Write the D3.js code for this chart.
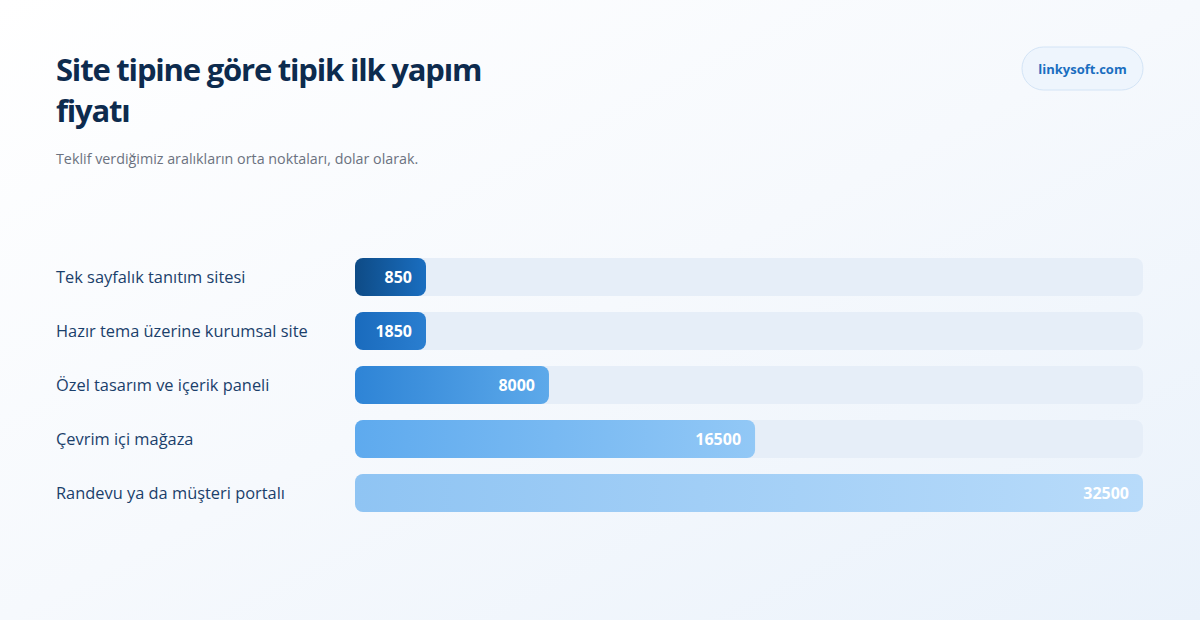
<!DOCTYPE html>
<html><head><meta charset="utf-8">
<script src="https://cdn.jsdelivr.net/npm/d3@7/dist/d3.min.js"></script>
<style>
html,body{margin:0;padding:0;width:1200px;height:620px;overflow:hidden;}
body{font-family:"Open Sans",sans-serif;}
</style></head>
<body>
<svg id="chart" width="1200" height="620"></svg>
<script>
const categories = ["Tek sayfalık tanıtım sitesi","Hazır tema üzerine kurumsal site","Özel tasarım ve içerik paneli","Çevrim içi mağaza","Randevu ya da müşteri portalı"];
const values = [850, 1850, 8000, 16500, 32500];
const titleLines = ["Site tipine göre tipik ilk yapım","fiyatı"];
const subtitle = "Teklif verdiğimiz aralıkların orta noktaları, dolar olarak.";
const brand = "linkysoft.com";
const barColors = [["#0e4b86","#1a6ec0"],["#1a6bbd","#2a7ed0"],["#2e84d6","#5da9ea"],["#5eaaee","#92c8f6"],["#8fc4f3","#b8dbfa"]];

const svg = d3.select("#chart");
const defs = svg.append("defs");
const bg = defs.append("linearGradient").attr("id","bg").attr("x1","0").attr("y1","0").attr("x2","1").attr("y2","1");
bg.append("stop").attr("offset","0").attr("stop-color","#ffffff");
bg.append("stop").attr("offset","0.5").attr("stop-color","#f6f9fd");
bg.append("stop").attr("offset","1").attr("stop-color","#eaf2fb");
svg.append("rect").attr("width",1200).attr("height",620).attr("fill","url(#bg)");

const title = svg.append("text").attr("x",56).attr("y",81).attr("fill","#0d2b4e")
  .attr("font-size",31).attr("font-weight",700).attr("letter-spacing","-1.2");
titleLines.forEach((t,i)=>title.append("tspan").attr("x",56).attr("y",81+i*41).text(t));
svg.append("text").attr("x",56).attr("y",164).attr("fill","#6b7280").attr("font-size",14.3).text(subtitle);

// brand pill
svg.append("rect").attr("x",1022).attr("y",47).attr("width",121).attr("height",43).attr("rx",21.5)
  .attr("fill","#eef5fd").attr("stroke","#d3e4f6");
svg.append("text").attr("x",1082.5).attr("y",74).attr("text-anchor","middle").attr("fill","#1a6ec0")
  .attr("font-size",13).attr("font-weight",700).text(brand);

const x0 = 355, x1 = 1143;
const x = d3.scaleLinear().domain([0, d3.max(values)]).range([0, x1-x0]);
const yb = d3.scaleBand().domain(categories).range([258, 258+54*5-16]).paddingInner(16/54).paddingOuter(0);

barColors.forEach((c,i)=>{
  const g = defs.append("linearGradient").attr("id","g"+i);
  g.append("stop").attr("offset","0").attr("stop-color",c[0]);
  g.append("stop").attr("offset","1").attr("stop-color",c[1]);
});

const rows = svg.append("g").selectAll("g").data(categories).join("g")
  .attr("transform",d=>`translate(0,${yb(d)})`);
const bw = yb.bandwidth();
rows.append("text").attr("x",56).attr("y",bw/2).attr("dy","0.35em").attr("fill","#1b3f6b")
  .attr("font-size",16.4).attr("font-weight",500).text(d=>d);
rows.append("rect").attr("x",x0).attr("y",0).attr("width",x1-x0).attr("height",bw).attr("rx",8).attr("fill","#e6eef8");
rows.append("rect").attr("x",x0).attr("y",0).attr("height",bw).attr("rx",8)
  .attr("width",(d,i)=>Math.max(71, x(values[i]))).attr("fill",(d,i)=>`url(#g${i})`);
rows.append("text").attr("x",(d,i)=>x0+Math.max(71, x(values[i]))-14).attr("y",bw/2).attr("dy","0.35em")
  .attr("text-anchor","end").attr("fill","#ffffff").attr("font-size",16).attr("font-weight",700)
  .text((d,i)=>values[i]);
</script>
</body></html>
